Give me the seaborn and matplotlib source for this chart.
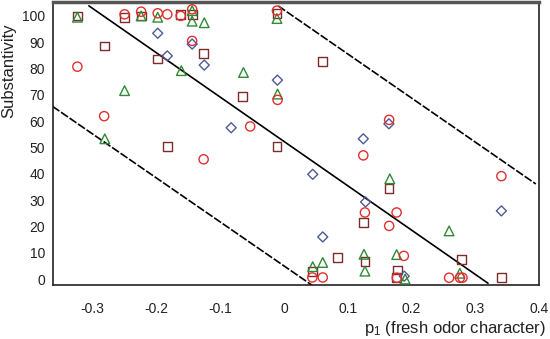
import numpy as np
import pandas as pd
from matplotlib import pyplot as plt
import seaborn as sns

# points, one list pair per marker group
circle_x = [-0.324, -0.282, -0.25, -0.224, -0.198, -0.183, -0.162, -0.144, -0.144, -0.126,
            -0.053, -0.011, -0.010, 0.0445, 0.0608, 0.1244, 0.127, 0.165, 0.165, 0.1767,
            0.188, 0.177, 0.259, 0.276, 0.280, 0.341]
circle_y = [80.7, 61.9, 100.6, 101.6, 101.0, 100.6, 100.0, 102.5, 90.5, 45.5,
            58.0, 102.0, 68.1, 0.6, 0.6, 47.0, 25.3, 60.5, 20.2, 25.3,
            8.8, 0.5, 0.5, 0.5, 0.5, 39.1]

triangle_x = [-0.324, -0.281, -0.25, -0.224, -0.198, -0.161, -0.144, -0.144, -0.125, -0.0635,
              -0.011, -0.010, 0.0451, 0.0608, 0.1255, 0.127, 0.166, 0.1767, 0.19, 0.259, 0.2758]
triangle_y = [99.5, 53.3, 71.6, 100.0, 99.5, 79.2, 102.0, 98.0, 97.4, 78.5,
              99.0, 70.3, 4.7, 6.3, 9.4, 3.0, 38.1, 9.3, 0.0, 18.3, 2.2]

diamond_x = [-0.198, -0.183, -0.144, -0.125, -0.0828, -0.0103, 0.0451, 0.0608, 0.1244, 0.128,
             0.1646, 0.1886, 0.341]
diamond_y = [93.4, 84.8, 89.3, 81.3, 57.5, 75.6, 39.8, 16.0, 53.3, 29.3,
             59.0, 1.1, 25.9]

square_x = [-0.324, -0.282, -0.25, -0.224, -0.198, -0.183, -0.162, -0.144, -0.126, -0.0645,
            -0.011, -0.011, 0.060, 0.0451, 0.0843, 0.1244, 0.127, 0.1646, 0.178, 0.177,
            0.2785, 0.341]
square_y = [100.0, 88.6, 99.4, 100.0, 83.6, 50.5, 100.4, 100.4, 85.7, 69.4,
            101.0, 50.5, 82.6, 3.0, 8.2, 21.5, 6.6, 34.4, 3.4, 0.5,
            7.5, 0.5]

# fitted line and its band: y = intercept + slope * x, drawn over x range
solid_fit = (52.3, -168.4, -0.306, 0.320)
lower_band = (5.0, -167.0, -0.363, 0.044)
upper_band = (102.3, -167.5, -0.009, 0.395)

groups = [
    ("square", square_x, square_y, "s", "#7d2b2b", 40),
    ("diamond", diamond_x, diamond_y, "D", "#4d5b95", 26),
    ("triangle", triangle_x, triangle_y, "^", "#2f8a35", 48),
    ("circle", circle_x, circle_y, "o", "#e0302e", 44),
]

sns.set_style("white")
plt.rcParams['font.family'] = ['Liberation Sans', 'DejaVu Sans']
plt.rcParams['mathtext.fontset'] = 'custom'
plt.rcParams['mathtext.rm'] = 'Liberation Sans'
plt.rcParams['mathtext.it'] = 'Liberation Sans'

fig = plt.figure(figsize=(5.5, 3.39), dpi=100)
ax = fig.add_axes([0.0955, 0.159, 0.8845, 0.836])

for name, xs, ys, mk, col, size in groups:
    df = pd.DataFrame({"x": xs, "y": ys})
    sns.scatterplot(data=df, x="x", y="y", marker=mk, s=size, facecolor="none",
                    edgecolor=col, linewidth=1.0, ax=ax, zorder=3)

dash = (0, (5, 1.2))
for (a, b, x0, x1), ls in [(solid_fit, "-"), (lower_band, dash), (upper_band, dash)]:
    lx = np.array([x0, x1])
    sns.lineplot(x=lx, y=a + b * lx, color="black", linewidth=1.2, linestyle=ls, ax=ax, zorder=2)

ax.set_xlim(-0.363, 0.4)
ax.set_ylim(-2.3, 105.4)
ax.set_xticks([-0.3, -0.2, -0.1, 0, 0.1, 0.2, 0.3, 0.4])
ax.set_xticklabels(["-0.3", "-0.2", "-0.1", "0", "0.1", "0.2", "0.3", "0.4"])
ax.set_yticks(range(0, 101, 10))
ax.set_yticks(range(5, 101, 10), minor=True)
ax.tick_params(axis="x", direction="out", length=4, width=1, labelsize=10, colors="#222222", pad=8)
ax.tick_params(axis="y", which="major", direction="inout", length=7, width=1, labelsize=10, colors="#222222", pad=2)
ax.tick_params(axis="y", which="minor", direction="in", length=3, width=1, colors="#222222")

for side in ["left", "bottom", "right"]:
    ax.spines[side].set_color("#222222")
    ax.spines[side].set_linewidth(1.2)
ax.spines["top"].set_color("#555555")
ax.spines["top"].set_linewidth(2.5)

ax.set_xlabel(r"$\mathrm{p}_1$ (fresh odor character)", fontsize=12, color="#222222", ha="right", va="top")
ax.xaxis.set_label_coords(1.013, -0.12)
ax.set_ylabel("Substantivity", fontsize=12, color="#222222", ha="center", va="center")
ax.yaxis.set_label_coords(-0.089, 0.757)

fig.savefig("out.png", dpi=100)
